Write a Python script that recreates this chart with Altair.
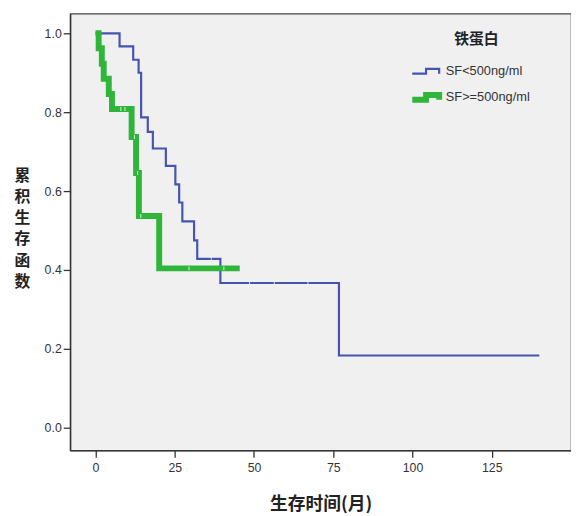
import altair as alt
import pandas as pd

# ---- data ----
groups = ["SF<500ng/ml", "SF>=500ng/ml"]

blue_t = [0, 7.6, 11.9, 13.6, 14.4, 16.5, 18.1, 22.2, 25.2, 26.4, 27.4, 31.1, 32.1, 39.4, 76.8, 140]
blue_s = [1.0, 0.967, 0.933, 0.900, 0.787, 0.750, 0.708, 0.664, 0.617, 0.571, 0.523, 0.475, 0.428, 0.367, 0.183, 0.183]

green_t = [0, 1.0, 2.0, 2.6, 4.2, 5.2, 11.4, 12.8, 13.7, 20.1, 45.5]
green_s = [1.0, 0.962, 0.923, 0.885, 0.846, 0.808, 0.737, 0.646, 0.537, 0.404, 0.404]

blue_cens_t = [36.5, 48.6, 56.4, 67.0]
blue_cens_s = [0.428, 0.367, 0.367, 0.367]
green_cens_t = [8.0, 9.3, 12.3, 13.3, 14.3, 29.5, 40.5]
green_cens_s = [0.808, 0.808, 0.737, 0.646, 0.537, 0.404, 0.404]

x_ticks = [0, 25, 50, 75, 100, 125]
y_ticks = [0.0, 0.2, 0.4, 0.6, 0.8, 1.0]

colors = ["#4554b0", "#2fb53a"]
widths = [2.2, 6]

lines = pd.DataFrame(
    {"t": blue_t + green_t,
     "s": blue_s + green_s,
     "g": [groups[0]] * len(blue_t) + [groups[1]] * len(green_t),
     "o": list(range(len(blue_t))) + list(range(len(green_t)))}
)
cens = pd.DataFrame(
    {"t": blue_cens_t + green_cens_t,
     "s": blue_cens_s + green_cens_s,
     "g": [groups[0]] * len(blue_cens_t) + [groups[1]] * len(green_cens_t)}
)

xscale = alt.Scale(domain=[-8, 150], nice=False, zero=False)
yscale = alt.Scale(domain=[-0.0575, 1.05], nice=False, zero=False)

xaxis = alt.Axis(values=x_ticks, title="生存时间(月)", grid=False, tickSize=7,
                 labelPadding=4, titleY=55, titleBaseline="middle")
yaxis = alt.Axis(values=y_ticks, format=".1f", grid=False, tickSize=7,
                 title=["累", "积", "生", "存", "函", "数"], titleAngle=0,
                 titleX=-49, titleY=164, titleAlign="center", titleBaseline="middle",
                 titleLineHeight=21.5, titleFontSize=16)

step_path = "M-3,0.35 H-1 V-0.35 H0.9 V0.35"

line_layer = alt.Chart(lines).mark_line(interpolate="step-after").encode(
    x=alt.X("t:Q", scale=xscale, axis=xaxis),
    y=alt.Y("s:Q", scale=yscale, axis=yaxis),
    color=alt.Color("g:N", scale=alt.Scale(domain=groups, range=colors),
                    legend=alt.Legend(title="铁蛋白", orient="none", legendX=358, legendY=19,
                                      symbolType=step_path, symbolSize=196,
                                      titleAnchor="middle", titlePadding=16,
                                      titleFont="Noto Sans CJK SC", titleFontSize=15,
                                      titleFontWeight="bold", titleColor="#222",
                                      labelFont="Liberation Sans", labelFontSize=13,
                                      labelColor="#333", rowPadding=4, labelOffset=3)),
    strokeWidth=alt.StrokeWidth("g:N", scale=alt.Scale(domain=groups, range=widths),
                                legend=alt.Legend(title="铁蛋白", orient="none", legendX=358, legendY=19,
                                                  symbolType=step_path, symbolSize=196)),
    order="o:Q",
)

cens_layer = alt.Chart(cens).mark_tick(color="white", thickness=1, size=4, opacity=0.8).encode(
    x=alt.X("t:Q", scale=xscale),
    y=alt.Y("s:Q", scale=yscale),
)

chart = alt.layer(line_layer, cens_layer).properties(
    width=508, height=443,
    autosize=alt.AutoSizeParams(type="none"),
    padding={"left": 63, "top": 2, "right": 0, "bottom": 72},
).configure_view(
    fill="#f0f0f0", stroke="#444", strokeWidth=1.2
).configure_axis(
    domainColor="#333", domainWidth=1.5, tickColor="#333", tickWidth=1.3,
    labelFont="Liberation Sans", labelFontSize=12.5, labelColor="#333",
    titleFont="Noto Sans CJK SC", titleFontSize=18, titleFontWeight="bold", titleColor="#222",
)

chart.save("out.html", embed_options={"renderer": "svg", "actions": False})
